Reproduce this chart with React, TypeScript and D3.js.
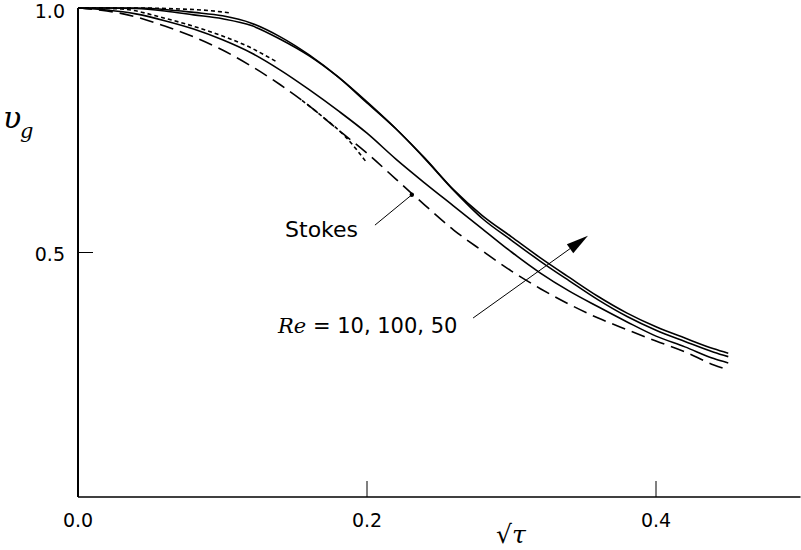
import React from "react";
import * as d3 from "d3";

// sqrt(tau) sample positions
const xs = [0, 0.02, 0.04, 0.06, 0.08, 0.1, 0.12, 0.14, 0.16, 0.18, 0.2, 0.22, 0.24, 0.26, 0.28, 0.3, 0.32, 0.34, 0.36, 0.38, 0.4, 0.42, 0.44, 0.45];
const stokes = [1.0, 0.994, 0.982, 0.963, 0.941, 0.914, 0.881, 0.843, 0.8, 0.751, 0.703, 0.65, 0.597, 0.546, 0.503, 0.462, 0.426, 0.394, 0.366, 0.342, 0.319, 0.297, 0.27, 0.26];
const re10 = [1.0, 0.996, 0.988, 0.974, 0.957, 0.935, 0.908, 0.873, 0.833, 0.79, 0.744, 0.691, 0.642, 0.595, 0.548, 0.501, 0.458, 0.421, 0.389, 0.358, 0.329, 0.307, 0.283, 0.274];
const re50 = [1.0, 1.0, 0.999, 0.994, 0.986, 0.978, 0.964, 0.936, 0.902, 0.859, 0.808, 0.753, 0.693, 0.628, 0.575, 0.532, 0.489, 0.449, 0.41, 0.376, 0.348, 0.325, 0.303, 0.294];
const re100 = [1.0, 1.0, 1.0, 0.997, 0.991, 0.984, 0.969, 0.941, 0.904, 0.859, 0.806, 0.753, 0.692, 0.627, 0.569, 0.525, 0.482, 0.442, 0.403, 0.369, 0.341, 0.318, 0.296, 0.287];

// short-time (dotted) approximations
const dot1X = [0, 0.04, 0.07, 0.09, 0.105];
const dot1V = [1.0, 1.0, 0.998, 0.995, 0.99];
const dot2X = [0, 0.03, 0.06, 0.09, 0.12, 0.138];
const dot2V = [1.0, 0.998, 0.979, 0.953, 0.918, 0.889];
const dot3X = [0.155, 0.17, 0.185, 0.2];
const dot3V = [0.811, 0.776, 0.737, 0.683];

const xTicks = [0.0, 0.2, 0.4];
const xTickLabels = ["0.0", "0.2", "0.4"];
const yTicks = [0.5, 1.0];
const yTickLabels = ["0.5", "1.0"];

// annotations (data coords)
const stokesLabel = { text: "Stokes", x: 0.1433, v: 0.532 };
const stokesLeader = [[0.2055, 0.556], [0.231, 0.618]];
const reLabel = { x: 0.1384, v: 0.335 };
const reArrow = [[0.2734, 0.366], [0.3529, 0.534]];

const W = 801;
const H = 550;

export default function App() {
  const x = d3.scaleLinear().domain([0, 0.5]).range([78, 800.5]);
  const y = d3.scaleLinear().domain([0, 1]).range([497, 8]);
  const mk = (X: number[], V: number[]) =>
    d3
      .line<number>()
      .x((_, i) => x(X[i]))
      .y((d) => y(d))
      .curve(d3.curveMonotoneX)(V) as string;

  const solid = { fill: "none", stroke: "#000", strokeWidth: 1.6 };
  const font = "'DejaVu Sans', sans-serif";

  const ax0 = x(reArrow[0][0]);
  const ay0 = y(reArrow[0][1]);
  const ax1 = x(reArrow[1][0]);
  const ay1 = y(reArrow[1][1]);
  const ang = Math.atan2(ay1 - ay0, ax1 - ax0);
  const hl = 22;
  const hw = 5.5;
  const bx = ax1 - hl * Math.cos(ang);
  const by = ay1 - hl * Math.sin(ang);
  const head = `M${ax1},${ay1} L${bx + hw * Math.sin(ang)},${by - hw * Math.cos(ang)} L${bx - hw * Math.sin(ang)},${by + hw * Math.cos(ang)} Z`;

  return (
    <svg
      width={W}
      height={H}
      style={{ position: "absolute", left: 0, top: 0, background: "#fff" }}
    >
      {/* curves */}
      <path d={mk(xs, stokes)} {...solid} strokeDasharray="14,7" />
      <path d={mk(xs, re10)} {...solid} />
      <path d={mk(xs, re50)} {...solid} />
      <path d={mk(xs, re100)} {...solid} />
      <path d={mk(dot1X, dot1V)} {...solid} strokeDasharray="4,3" />
      <path d={mk(dot2X, dot2V)} {...solid} strokeDasharray="4,3" />
      <path d={mk(dot3X, dot3V)} {...solid} strokeDasharray="4,3" />

      {/* axes */}
      <line x1={x(0)} x2={x(0)} y1={y(1)} y2={y(0)} stroke="#000" strokeWidth={2} />
      <line x1={x(0)} x2={x(0.5)} y1={y(0)} y2={y(0)} stroke="#000" strokeWidth={1.6} />
      {xTicks.map((t, i) => (
        <g key={"xt" + i}>
          {t > 0 && (
            <line x1={x(t)} x2={x(t)} y1={y(0)} y2={y(0) - 16} stroke="#000" strokeWidth={1} />
          )}
          <text x={x(t)} y={527} textAnchor="middle" fontFamily={font} fontSize={19}>
            {xTickLabels[i]}
          </text>
        </g>
      ))}
      {yTicks.map((t, i) => (
        <g key={"yt" + i}>
          {t < 1 && (
            <line x1={x(0)} x2={x(0) + 15} y1={y(t)} y2={y(t)} stroke="#000" strokeWidth={1} />
          )}
          <text x={65} y={Math.max(y(t) + 8, 18)} textAnchor="end" fontFamily={font} fontSize={19}>
            {yTickLabels[i]}
          </text>
        </g>
      ))}

      {/* axis titles */}
      <text x={3} y={128} fontFamily="'DejaVu Serif', serif" fontStyle="italic" fontSize={30}>
        υ
      </text>
      <text x={20} y={138} fontFamily="'DejaVu Serif', serif" fontStyle="italic" fontSize={21}>
        g
      </text>
      <text x={511} y={543} textAnchor="middle" fontFamily="'DejaVu Serif', serif" fontSize={25}>
        √<tspan fontStyle="italic">τ</tspan>
      </text>

      {/* annotations */}
      <text x={x(stokesLabel.x)} y={y(stokesLabel.v)} fontFamily={font} fontSize={22}>
        {stokesLabel.text}
      </text>
      <line
        x1={x(stokesLeader[0][0])}
        y1={y(stokesLeader[0][1])}
        x2={x(stokesLeader[1][0])}
        y2={y(stokesLeader[1][1])}
        stroke="#000"
        strokeWidth={1}
      />
      <circle cx={x(stokesLeader[1][0])} cy={y(stokesLeader[1][1])} r={2.2} fill="#000" />

      <text x={x(reLabel.x)} y={y(reLabel.v)} fontFamily={font} fontSize={21}>
        <tspan fontFamily="'DejaVu Serif', serif" fontStyle="italic">Re</tspan>
        {" = 10, 100, 50"}
      </text>
      <line x1={ax0} y1={ay0} x2={bx} y2={by} stroke="#000" strokeWidth={1} />
      <path d={head} fill="#000" />
    </svg>
  );
}
